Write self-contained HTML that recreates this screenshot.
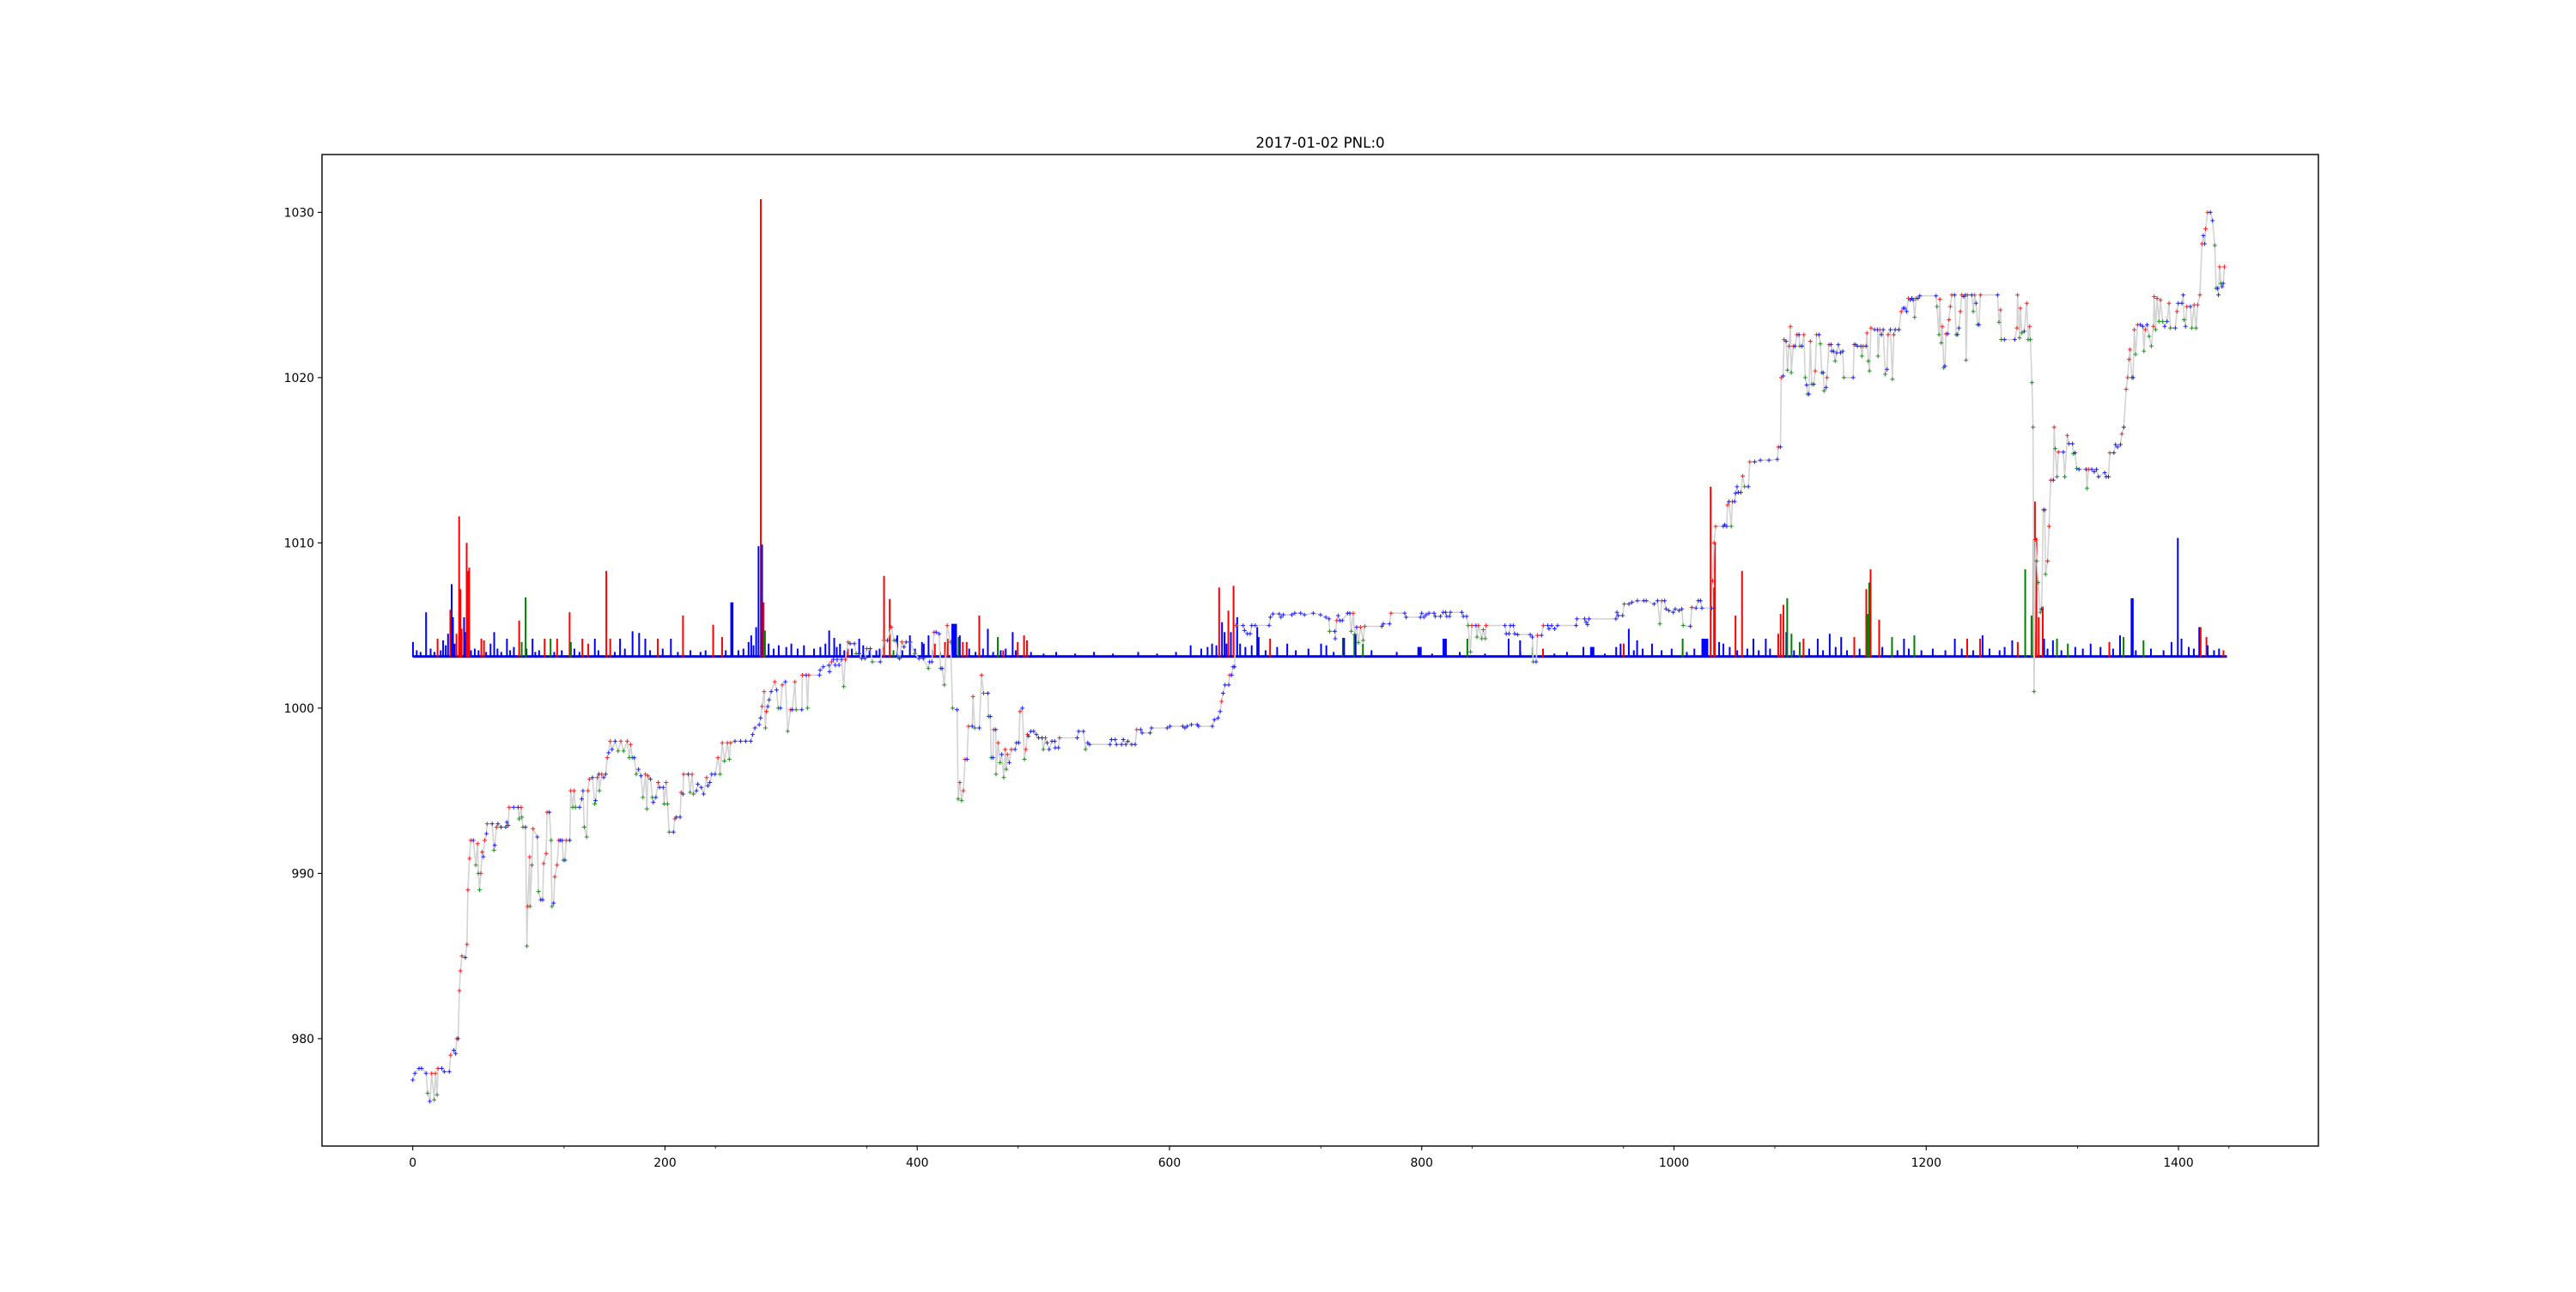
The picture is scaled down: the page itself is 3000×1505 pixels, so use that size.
<!DOCTYPE html>
<html><head><meta charset="utf-8"><style>
html,body{margin:0;padding:0;background:#fff}
svg text{font-family:"DejaVu Sans","Liberation Sans",sans-serif;fill:#000}
</style></head><body>
<svg id="chart" xmlns="http://www.w3.org/2000/svg" width="3000" height="1500" viewBox="0 0 3000 1500">
<rect x="0" y="0" width="3000" height="1500" fill="#fff"/>
<text x="1537.5" y="172" font-size="16.7" text-anchor="middle">2017-01-02 PNL:0</text>
<g id="plot"></g>
<rect x="375" y="180" width="2325" height="1155" fill="none" stroke="#000" stroke-width="1.4"/>
<g id="axes"></g>
</svg>
<script>
const xTicks = [0,200,400,600,800,1000,1200,1400];
const xMinorTicks = [120,240,360,480,720,840,960,1080,1320,1440];
const yTicks = [980,990,1000,1010,1020,1030];
const barBase = 1003.1;
const pricePts = [[0,977.5],[1.7,977.9],[5,978.2],[7,978.2],[10.6,977.9],[11.8,976.7],[13.6,976.2],[15,977.9],[17,976.3],[18,977.9],[19.3,976.6],[20,978.2],[23,978.2],[25,978],[29,978],[30,979],[32.6,979.3],[34,979.1],[35,980],[36,980],[37,982.9],[37.8,984.1],[39,985],[41.7,984.9],[43,985.7],[43.7,989],[45,990.9],[46,992],[48,992],[50,990.5],[51.4,991.8],[52,990],[53,989],[54,990],[55,991.3],[56,991],[57,992],[58.4,992.4],[59,993],[63,993],[64.4,991.4],[65,991.7],[66.4,992.8],[67.5,993],[70,992.8],[73.7,992.8],[74.6,993.1],[75.7,992.9],[76.4,994],[80,994],[83.6,994],[84.3,993.3],[86,994],[86.5,993.4],[87.4,992.8],[89.4,992.8],[90.5,985.6],[91.2,988],[92.7,991],[93,988],[94.5,990.5],[95.4,992.7],[98.8,992.2],[99.7,988.9],[101.5,988.4],[103,988.4],[103.8,990.6],[105.8,991.2],[106.5,993.7],[108.3,993.7],[109.7,992],[110.4,988],[111.7,988.2],[112.6,989.8],[114.4,990.5],[115.8,992],[116.9,992],[118.5,992],[119.4,990.8],[120.7,990.8],[121.6,992],[124.5,992],[125.2,995],[126.8,994],[127.9,995],[129,994],[132.3,994],[134,994.5],[135,995],[136,992.8],[137.9,992.2],[139,995],[140,995.7],[142.5,995.8],[144.3,994.2],[145,994.4],[146.3,995.8],[147.6,996],[148,995],[149.8,996],[151.4,995.8],[153,996],[154.2,997],[155.3,997.3],[156.6,998],[158,997.5],[160.5,998],[162.8,997.4],[165,998],[167.2,997.4],[170,998],[171.7,997],[172.8,997.8],[174,997],[175.6,997],[177.2,996],[179,996.3],[181,995.9],[182.5,994.6],[184.5,996],[185.6,993.9],[186.5,995.9],[188.5,995.7],[190,994.6],[190.7,994.3],[192.8,994.6],[194.6,995.5],[195.7,995.2],[198.6,995.2],[199.3,994.2],[200.9,995.5],[202,994.2],[203.3,992.5],[206.7,992.5],[207.8,993.3],[209,993.4],[212,993.4],[212.8,994.9],[214.3,994.8],[214.7,996],[218.5,996],[219.9,994.9],[221.5,996],[222.6,994.8],[225,995],[226,995.4],[228.8,995.2],[230.6,994.8],[233,995.8],[234,995.3],[235.6,995.5],[237,996],[239.7,996],[242,997],[243.7,996],[245.4,997.9],[247.2,996.8],[249.5,997.9],[251,996.9],[252,997.9],[255.5,998],[260,998],[264,998],[268,998],[269.5,998.4],[271.3,998.8],[274.7,999],[275.8,999.4],[277,1000.1],[278.6,1001],[279.7,998.8],[280.4,999.8],[281.5,1000.1],[282.6,1000.5],[284.2,1001],[287,1001.6],[288.5,1001.1],[289.8,1000],[291.6,1000],[293,1001.4],[295.5,1001.6],[297.3,998.6],[299.6,999.9],[301,999.9],[303,1001.6],[304,999.9],[308.5,999.9],[309,1002],[312,1002],[313,1000],[314,1002],[322.5,1002],[323,1002.3],
[325.5,1002.5],[330,1002.6],[330.5,1002.2],[332,1002.8],[333.5,1002.95],[335,1002.6],[336.5,1002.95],[338,1002.6],[340,1002.95],[341.7,1001.3],[343,1002.95],[345.2,1004],[346.8,1003.9],[350.2,1003.9],[351.6,1003.3],[354,1003.3],[356,1003],[358.5,1003],[360,1003.6],[362.8,1003.6],[364.4,1002.8],[370.7,1002.8],[373.5,1004.1],[376.4,1004.1],[379.4,1004.9],[381.6,1004.1],[383.2,1004.1],[384.8,1003.1],[386,1003],[387.8,1004],[389.5,1003.7],[391.2,1004],[394.5,1004],[398,1003.3],[401.4,1003],[404.8,1003],[408.8,1002.4],[409.8,1002.8],[411.6,1002.8],[413.4,1004.6],[415,1004.6],[417.4,1004.5],[418.5,1002.4],[419.7,1002.4],[421.5,1001.4],[423.8,1005],[426.5,1004],[428,1000],[431.6,999.9],[432.5,994.5],[433.8,995.5],[435.2,994.4],[436.6,995],[437.9,996.9],[439.5,996.9],[440.6,998.9],[443.6,998.9],[444.2,1000.7],[445.6,998.8],[449.2,998.8],[451,1002],[452.6,1000.9],[456,1000.9],[456.5,999.5],[457.9,999.5],[458.6,997],[460,997],[460.7,998.7],[462.3,998.7],[462.5,996],[464.1,997.9],[465.7,996.7],[467,997.2],[468.6,995.8],[469.7,997.5],[470.6,996.3],[471.5,997.2],[473,996.7],[474.6,997.5],[477.6,997.5],[478.7,997.9],[480.5,997.9],[481.5,999.8],[483.3,1000],[485,996.9],[486.2,997.5],[487.3,998.4],[488.2,998.3],[490,998.6],[492.3,998.6],[494.5,998.4],[496.3,998.2],[499,998.2],[500,997.5],[501.6,998.2],[503,997.9],[504.6,997.5],[506.8,998],[509,998],[509.4,997.6],[512,997.6],[512.8,998.2],[526.8,998.2],[528,998.6],[531.8,998.6],[533.4,997.5],[535.2,997.9],[536.6,997.8],[552.9,997.8],[554,998.1],[557,998.1],[557.9,997.8],[562,997.8],[563.4,998.1],[565.4,997.8],[567,998],[570,997.8],[572.8,997.8],[574,998.7],[577.2,998.7],[578.3,998.5],[584.6,998.5],[585.7,998.8],[598.2,998.8],[600.4,998.9],[610.6,998.9],[612.2,998.8],[614,998.9],[617.4,999],[622,999],[623,998.9],[634,998.9],[635.6,999.3],[638.5,999.4],[640.2,999.8],[641.3,1000.4],[642.5,1000.9],[644,1001.4],[647,1001.4],[647.7,1002],[649.3,1002],[650.4,1002.5],[651.6,1002.5],[652.7,1005],[658.4,1005],[659.5,1004.7],[661.8,1004.5],[664,1004.5],[665.2,1005],
[668,1005],[679,1005],[680,1005.5],[682,1005.7],[687,1005.7],[688.4,1005.5],[690.2,1005.65],[697,1005.65],[699.3,1005.75],[704,1005.75],[707,1005.65],[714,1005.75],[719.7,1005.65],[724,1005.5],[726.5,1005.4],[727,1004.65],[731,1004.65],[731.4,1004.2],[732.6,1005.3],[733.7,1005.6],[735,1005.3],[737,1005.3],[741.2,1005.75],[743,1005.75],[744.1,1004.65],[745.7,1005.75],[746.8,1004.45],[748.4,1004.9],[749.8,1003.96],[751.4,1004.9],[753.6,1004.1],[754.8,1004.95],[768.4,1004.95],[769.5,1005.1],[774.5,1005.1],[775.6,1005.75],[786.5,1005.75],[787.6,1005.5],[799,1005.5],[800,1005.75],[801.7,1005.5],[803.5,1005.65],[805.7,1005.75],[809.8,1005.75],[810.7,1005.55],[814.8,1005.55],[817,1005.8],[819,1005.8],[819.8,1005.55],[822,1005.55],[822.7,1005.8],[831.8,1005.8],[833,1005.55],[835.6,1005.55],[836.8,1005],[838.6,1003.4],[839.7,1005],[843,1005],[843.8,1004.3],[845,1005],[847.6,1004.2],[848.8,1004.75],[850.4,1004.2],[851,1005],[866,1005],[867,1004.5],[869.2,1004.5],[870.3,1005],[872.6,1005],[873.7,1004.5],[876,1004.45],[886,1004.45],[887.7,1004.3],[888.4,1002.8],[890.7,1002.8],[891.8,1004.4],[895,1004.4],[896.4,1005],[900,1005],[900.9,1004.8],[903,1005],[905.4,1004.8],[907.7,1005],[922.4,1005],[923,1005.4],[929.2,1005.4],[930.3,1005.2],[931.5,1005.05],[932.6,1005.4],[954,1005.4],[954.8,1005.8],[955.7,1005.6],[959.3,1005.6],[960.5,1006.3],[964.3,1006.3],
[966.6,1006.4],[971,1006.5],[976,1006.5],[978,1006.5],[984.2,1006.3],[987,1006.5],[988.8,1005.1],[990.3,1006.5],[992.6,1006.5],[993.7,1006],[996,1005.9],[999.4,1005.8],[1001,1006],[1004,1005.9],[1006.2,1006],[1007.3,1005],[1013,1004.95],[1014.1,1006.1],[1017.5,1006.05],[1019.3,1006.5],[1021,1006.5],[1022.1,1006.05],[1030,1006.05],[1030.7,1007.7],[1031.8,1010],[1033,1011],[1039.1,1011],[1040.2,1011.1],[1041.8,1011],[1042.5,1012.3],[1043.6,1012.5],[1045.4,1011],[1046.3,1012.5],[1048.1,1012.5],[1048.8,1013],[1050,1013.4],[1051,1013.05],[1053,1013.05],[1054.5,1014.05],[1056,1013.4],[1059,1013.4],[1060.1,1014.9],[1064,1014.9],[1068.5,1015],[1075.3,1015],[1082,1015.05],[1082.8,1015.8],[1084.4,1015.8],[1085,1020],[1086.6,1020.1],[1087.3,1022.3],[1088.9,1022.2],[1090,1020.45],[1091.2,1021.9],[1092.3,1023.1],[1093,1020.3],[1094.6,1021.9],[1096,1021.9],[1097.5,1022.6],[1099.1,1022.6],[1099.8,1021.9],[1101.5,1021.9],[1103,1022.6],[1104.1,1020],[1105.2,1019.55],[1105.9,1019],[1107,1019],[1108.1,1022.2],[1109.3,1019.6],[1110.8,1019.6],[1112,1020.4],[1113.1,1022.6],[1115,1022.6],[1116.1,1022.05],[1117.2,1020.3],[1118.3,1020.3],[1119,1019.2],[1120.6,1019.4],[1121.3,1020],[1122.9,1022],[1124.5,1022],[1125.1,1021.6],[1126.5,1021.6],[1127.8,1021],[1129,1021.5],[1130.3,1022],[1132,1021.5],[1133.8,1021.6],[1134.7,1020],[1142.1,1020],[1142.8,1022],[1144,1022],[1145.5,1021.9],[1148.2,1021.9],[1149,1021.3],[1150,1021.9],[1152.3,1021.9],[1153,1022.7],[1154.1,1021],[1155,1020.4],[1156.2,1023],[1159.1,1022.9],[1161.4,1022.9],[1161.8,1021.3],[1163.2,1022.9],[1164.5,1022.6],[1165.9,1022.9],[1167.5,1020.2],[1168.9,1020.5],[1169.8,1022.6],[1171.6,1022.9],[1173.2,1019.9],[1174.3,1022.6],[1175.4,1022.9],[1178.4,1022.9],[1180.2,1024],[1181.8,1024.2],[1183,1024.2],[1184.5,1024],[1185.9,1024.8],[1187.4,1024.7],[1188.6,1024.8],[1189.7,1024.7],[1190.8,1023.65],[1192,1024.8],[1193.5,1024.8],[1194.9,1024.95],[1207.8,1024.95],[1208.5,1024.3],[1210.1,1022.6],[1210.8,1024.75],[1211.9,1022.1],[1212.8,1023.1],[1213.9,1020.6],[1214.8,1020.7],[1215.7,1022.65],[1217,1022.65],[1218,1023.5],[1219.1,1024.3],[1220.3,1025],[1222.5,1025],[1223.7,1022.6],[1224.8,1022.6],[1225.9,1023],[1227.1,1024],[1228.2,1025],[1229.8,1024.9],[1231.1,1025],[1231.6,1021.05],[1232.7,1025],[1236.1,1025],
[1237.3,1024],[1238.4,1025],[1239.5,1024.5],[1240.7,1023.2],[1241.8,1023.2],[1242.9,1025],[1256.6,1025],[1257.7,1023.35],[1258.9,1024.1],[1259.5,1022.3],[1262,1022.3],[1270.2,1022.3],[1272,1023],[1272.4,1025],[1274,1022.4],[1274.7,1024.2],[1275.8,1022.7],[1277.7,1022.8],[1279.7,1024.5],[1280.8,1022.3],[1282,1023.1],[1282.6,1022.3],[1283.8,1019.7],[1284.7,1017],[1285.5,1001],[1286.5,1010.2],[1287.6,1008.9],[1288.8,1007.6],[1290.5,1005.8],[1291.5,1006],[1292.8,1012],[1294,1012],[1294.6,1008.1],[1296.2,1008.9],[1297.4,1011],[1298.7,1013.8],[1300.8,1013.8],[1301.4,1017],[1302.3,1015.7],[1303.7,1014],[1304.8,1015.5],[1308.7,1015.5],[1309.8,1014],[1311.9,1016.5],[1313.2,1016],[1316,1016],[1316.6,1015.4],[1318,1015.45],[1319.3,1014.5],[1321.1,1014.45],[1326.8,1014.45],[1327.5,1013.3],[1328.6,1014.45],[1331.3,1014.45],[1333.2,1014.3],[1335,1014.45],[1336.6,1014],[1341.5,1014.25],[1342.7,1014],[1344.5,1014],[1345.6,1015.45],[1348.8,1015.45],[1350.1,1015.95],[1351.7,1015.8],[1354,1015.95],[1355.1,1016.6],[1356.7,1017],[1358.5,1019.3],[1359.7,1020],[1360.8,1021.1],[1361.5,1021.7],[1363.1,1020],[1364,1020],[1364.9,1022.9],[1366,1021.4],[1367.6,1023.2],[1369.8,1023.2],[1371.7,1023.1],[1372.6,1021.6],[1373.7,1022.9],[1375.1,1023.2],[1376.7,1022.5],[1378.5,1021.9],[1380.1,1023.1],[1380.7,1024.9],[1381.9,1022.9],[1383,1024.8],[1384.6,1023.4],[1385.7,1024.7],[1387.5,1023.4],[1389.1,1023.1],[1390.9,1023.4],[1392.5,1024.5],[1393.6,1023],[1397.5,1023],[1398.8,1024],[1399.8,1024.5],[1402.7,1024.5],[1403.8,1025],[1404.5,1023.5],[1405.6,1023.1],[1406.6,1024.3],[1409.5,1024.3],[1410.6,1023],[1412.4,1024.4],[1414,1023],[1415.2,1024.4],[1417,1025],[1418.6,1028.1],[1419.7,1028.6],[1420.8,1028.1],[1421.5,1029],[1423.1,1030],[1425.3,1030],[1427,1029.5],[1428.8,1028],[1429.9,1025.4],[1431,1025.4],[1431.7,1025],[1432.6,1026.7],[1433.7,1025.7],[1434.6,1025.5],[1435.5,1025.7],[1436.4,1026.7]];
const bigBars = [[0,1004,'b'],[10.4,1005.8,'b'],[19.5,1004.2,'r'],[23.9,1004.1,'b'],[27.8,1004.5,'b'],[29.6,1005.95,'r'],[30.7,1007.5,'b'],[31.7,1005.5,'b'],[34.5,1004.5,'r'],[36.6,1011.6,'r'],[37.6,1007.2,'r'],[38.6,1004.8,'r'],[40.5,1005.5,'b'],[41.3,1004.6,'b'],[42.6,1010,'r'],[43.6,1008.3,'r'],[44.6,1008.5,'r'],[54.2,1004.2,'r'],[56.3,1004.1,'r'],[61.5,1003.9,'b'],[64.4,1004.6,'b'],[74.5,1004.2,'b'],[84.2,1005.3,'r'],[86.2,1004,'g'],[89.3,1006.7,'g'],[94.8,1004.2,'b'],[104.4,1004.2,'r'],[109.1,1004.2,'g'],[114.3,1004.2,'r'],[124.2,1005.8,'r'],[125.2,1004,'g'],[134.3,1004.2,'r'],[139,1003.9,'r'],[144.2,1004.2,'b'],[153.3,1008.3,'r'],[156.4,1004.2,'r'],[164.2,1004.2,'b'],[174.1,1004.65,'b'],[179.3,1004.55,'b'],[184.2,1004.2,'b'],[194.1,1004.2,'r'],[204.5,1004.2,'b'],[214.1,1005.6,'r'],[238,1005.05,'r'],[245.1,1004.3,'r'],[252.3,1006.4,'b'],[253.4,1006.4,'b'],[266.1,1004,'b'],[268.2,1004.4,'b'],[272.1,1004.9,'b'],[274,1009.8,'b'],[275.8,1030.8,'r'],[276.8,1009.9,'b'],[278,1006.4,'r'],[279.1,1004.7,'g'],
[330,1004.7,'b'],[334,1004.25,'b'],[338.6,1003.9,'b'],[344.8,1003.6,'r'],[353.8,1004.2,'b'],[367.4,1003.5,'b'],[373.5,1008,'r'],[378,1006.6,'r'],[381,1003.5,'g'],[384,1004.4,'b'],[394,1004.4,'b'],[403.6,1004,'b'],[408.8,1004.4,'b'],[413.8,1003.9,'r'],[421.8,1004,'r'],[424,1004.2,'r'],[427.6,1005.1,'b'],[428.6,1005.1,'b'],[429.6,1005.1,'b'],[430.6,1005.1,'b'],[432.6,1004.3,'g'],[433.6,1004.4,'b'],[436,1004,'r'],[439,1004,'r'],[449,1005.6,'r'],[455.8,1004.8,'b'],[463.7,1004.3,'g'],[468,1003.5,'r'],[475.5,1004.6,'b'],[479.5,1004,'r'],[484.5,1004.4,'r'],[486.8,1004.1,'r'],[616.6,1003.8,'b'],[633.6,1003.9,'b'],[639.2,1007.3,'r'],[641.5,1005.2,'b'],[643.5,1004.6,'b'],[646.5,1005.9,'r'],[648.5,1004.6,'b'],[650.6,1007.4,'r'],[653.5,1005.5,'b'],[655.8,1003.9,'b'],
[669.4,1004.9,'b'],[670.5,1004.3,'b'],[679.6,1004.2,'r'],[685.2,1003.7,'b'],[693.2,1003.9,'b'],[720,1003.9,'b'],[724.2,1003.8,'b'],[737.3,1004.25,'g'],[738.3,1004.25,'b'],[746.4,1004.5,'g'],[747.4,1004.5,'b'],[753.2,1003.9,'g'],[797.1,1003.7,'b'],[798.1,1003.7,'b'],[799.1,1003.7,'b'],[817,1004.2,'b'],[818,1004.2,'b'],[819,1004.2,'b'],[836,1004.2,'g'],[868.7,1004.2,'b'],[877.8,1004.1,'b'],[887.7,1003.7,'g'],[896,1003.6,'r'],[928,1003.7,'b'],[934,1003.7,'b'],[935,1003.7,'b'],[936,1003.7,'b'],[954,1003.7,'b'],[957.5,1003.9,'b'],[960,1003.9,'r'],[964,1004.8,'b'],[970.6,1004.1,'b'],[982.4,1003.9,'b'],
[1006.7,1004.2,'g'],[1022.3,1004.2,'b'],[1023.3,1004.2,'b'],[1024.3,1004.2,'b'],[1025.3,1004.2,'b'],[1026.3,1004.2,'b'],[1028.9,1013.4,'r'],[1031.6,1007.3,'r'],[1032.3,1010.05,'r'],[1035.6,1004,'b'],[1039,1003.9,'b'],[1048.6,1005.6,'r'],[1053.8,1008.3,'r'],[1062.8,1004.2,'b'],[1072.6,1004.2,'b'],[1082.5,1004.5,'r'],[1084.4,1005.7,'r'],[1086.6,1006.25,'r'],[1088.9,1004.6,'b'],[1089.6,1006.65,'g'],[1093,1004.5,'g'],[1099.5,1004,'g'],[1102.5,1004.2,'r'],[1113.8,1004.2,'b'],[1123.3,1004.5,'b'],[1132.4,1004.3,'b'],[1142.8,1004.3,'r'],[1152.3,1007.2,'r'],[1153.4,1005.7,'g'],[1154.6,1007.6,'g'],[1155.7,1008.4,'r'],[1162.5,1005.35,'r'],[1172.7,1004.3,'g'],[1182.2,1004.2,'b'],[1190.4,1004.4,'g'],[1222.5,1004.2,'b'],[1232.3,1004.2,'r'],[1242.5,1004.2,'r'],[1244.5,1004.4,'b'],
[1268,1004.1,'b'],[1272.4,1004,'r'],[1278.3,1008.4,'g'],[1283.3,1005.6,'g'],[1284.9,1010.2,'g'],[1286,1012.5,'r'],[1287.2,1010.3,'r'],[1289,1005.5,'r'],[1292.2,1006.15,'r'],[1293.3,1004.2,'b'],[1300.3,1004.1,'b'],[1303.5,1004.2,'g'],[1312.1,1003.9,'g'],[1330.2,1003.9,'b'],[1345,1004,'r'],[1353.5,1004.4,'b'],[1356.3,1004.3,'g'],[1362.6,1006.65,'b'],[1363.6,1006.65,'b'],[1372.1,1004.1,'g'],[1394.3,1004,'b'],[1399.3,1010.3,'b'],[1402.2,1004.2,'b'],[1416.3,1004.9,'b'],[1417.4,1004.9,'r'],[1422,1004.3,'r'],[1423,1003.8,'b'],[1435.5,1003.5,'r']];
const smallBars = [[3,1003.5],[6,1003.4],[14,1003.6],[17,1003.4],[22,1003.5],[26,1003.8],[33,1003.9],[46,1003.5],[49,1003.6],[52,1003.5],[58,1003.4],[67,1003.6],[70,1003.4],[77,1003.5],[80,1003.7],[90,1003.6],[97,1003.4],[100,1003.5],[112,1003.4],[118,1003.5],[128,1003.6],[132,1003.4],[147,1003.5],[160,1003.4],[168,1003.6],[188,1003.5],[198,1003.6],[210,1003.4],[220,1003.5],[228,1003.4],[232,1003.5],[248,1003.5],[258,1003.5],[262,1003.6],[270,1003.8],[282,1003.9],[286,1003.6],[290,1003.8],[296,1003.7],[300,1003.9],[305,1003.6],[310,1003.8],[318,1003.6],[323,1003.7],[327,1003.9],[336,1003.7],[342,1003.5],[348,1003.6],[357,1003.8],[362,1003.5],[370,1003.6],[388,1003.5],[398,1003.6],[405,1003.9],[412,1003.5],[418,1003.4],[441,1003.6],[446,1003.4],[452,1003.6],[460,1003.4],[466,1003.5],[470,1003.6],[478,1003.5],[490,1003.4],[500,1003.3],[510,1003.4],[525,1003.3],[540,1003.4],[555,1003.3],[575,1003.4],[590,1003.3],[605,1003.4],[625,1003.6],[630,1003.7],[637,1003.8],[645,1003.9],[660,1003.7],[665,1003.8],[676,1003.5],[700,1003.5],[710,1003.6],[730,1003.4],[760,1003.5],[780,1003.4],[808,1003.3],[830,1003.4],[850,1003.3],[878,1003.4],[905,1003.3],[915,1003.4],[945,1003.3],[968,1003.5],[975,1003.6],[990,1003.5],[998,1003.6],[1010,1003.4],[1016,1003.6],[1044,1003.7],[1050,1003.5],[1058,1003.6],[1067,1003.5],[1076,1003.6],[1095,1003.5],[1107,1003.6],[1118,1003.5],[1128,1003.7],[1137,1003.5],[1147,1003.6],[1165,1003.7],[1177,1003.5],[1186,1003.6],[1196,1003.5],[1205,1003.6],[1215,1003.5],[1228,1003.6],[1237,1003.5],[1250,1003.6],[1258,1003.5],[1262,1003.7],[1296,1003.6],[1307,1003.5],[1318,1003.7],[1324,1003.6],[1338,1003.7],[1348,1003.6],[1366,1003.5],[1378,1003.6],[1388,1003.5],[1408,1003.7],[1412,1003.6],[1428,1003.5],[1432,1003.6]];

const NS = 'http://www.w3.org/2000/svg';
const XMIN = -71.95, XMAX = 1510.95, YMIN = 973.5, YMAX = 1033.5;
const L = 375, R = 2700, T = 180, B = 1335;
function X(v){ return L + (v - XMIN) * (R - L) / (XMAX - XMIN); }
function Y(v){ return B - (v - YMIN) * (B - T) / (YMAX - YMIN); }
const colorMap = {b:'#0000ff', r:'#ff0000', g:'#008000'};
const plot = document.getElementById('plot');
const axes = document.getElementById('axes');
function mk(tag, attrs, parent){
  const e = document.createElementNS(NS, tag);
  for (const k in attrs) e.setAttribute(k, attrs[k]);
  parent.appendChild(e);
  return e;
}
const unitW = X(1) - X(0);
const strip = mk('rect', {x: X(pricePts[0][0]), y: Y(barBase) - 2, width: X(pricePts[pricePts.length-1][0] + 2) - X(pricePts[0][0]), height: 3, fill: '#0000ff'}, plot);


smallBars.forEach(d => {
  const r = mk('rect', {x: X(d[0]) - unitW/2, y: Y(d[1]), width: Math.max(2, unitW*1.3), height: Y(barBase) - Y(d[1]), fill: '#0000ff'}, plot);
  
  
});
bigBars.forEach(d => {
  const r = mk('rect', {x: X(d[0]) - unitW/2, y: Y(d[1]), width: Math.max(2, unitW*1.2), height: Y(barBase) - Y(d[1]), fill: colorMap[d[2]]}, plot);
  
  
});
const line = mk('polyline', {points: pricePts.map(p => X(p[0]).toFixed(1) + ',' + Y(p[1]).toFixed(1)).join(' '), fill: 'none', stroke: '#d3d3d3', 'stroke-width': 1.6}, plot);


pricePts.forEach((p, i) => {
  let c = '#0000ff';
  if (i > 0) { if (p[1] > pricePts[i-1][1] + 0.5) c = '#ff0000'; else if (p[1] < pricePts[i-1][1] - 0.5) c = '#008000'; }
  const cx = X(p[0]), cy = Y(p[1]);
  const m = mk('path', {d: `M${cx-2.5},${cy}H${cx+2.5}M${cx},${cy-2.5}V${cy+2.5}`, stroke: c, 'stroke-width': 1, fill: 'none', opacity: 0.85}, plot);
  
  
});
xTicks.forEach(v => {
  const t = mk('line', {x1: X(v), x2: X(v), y1: B, y2: B + 5, stroke: '#000', 'stroke-width': 1.1}, axes);
  
  
  const lb = mk('text', {x: X(v), y: B + 24, 'font-size': 13.9, 'text-anchor': 'middle'}, axes);
  lb.textContent = String(v);
  
  
});
xMinorTicks.forEach(v => {
  const t = mk('line', {x1: X(v), x2: X(v), y1: B, y2: B + 3, stroke: '#000', 'stroke-width': 0.8}, axes);
  
  
});
yTicks.forEach(v => {
  const t = mk('line', {x1: L - 5, x2: L, y1: Y(v), y2: Y(v), stroke: '#000', 'stroke-width': 1.1}, axes);
  
  
  const lb = mk('text', {x: L - 9, y: Y(v) + 5, 'font-size': 13.9, 'text-anchor': 'end'}, axes);
  lb.textContent = String(v);
  
  
});
</script>
</body></html>
